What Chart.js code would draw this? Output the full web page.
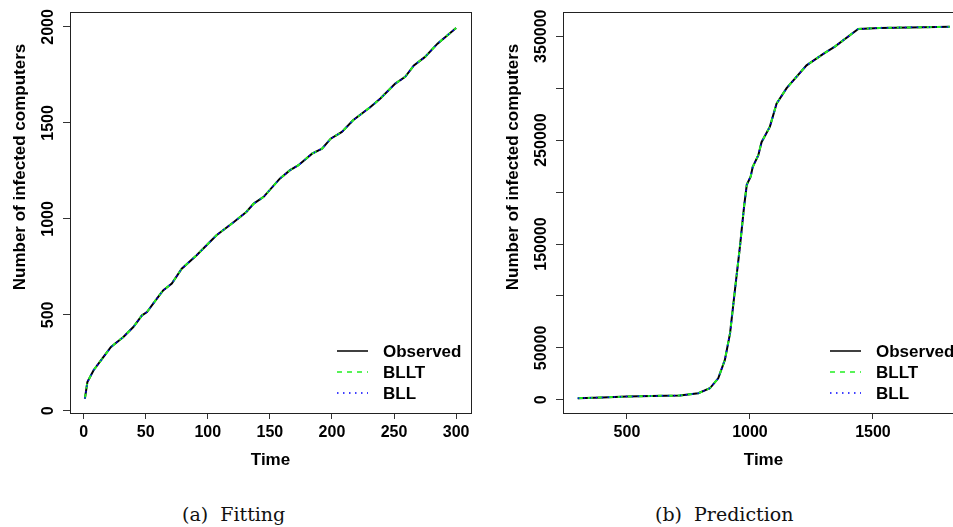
<!DOCTYPE html>
<html>
<head>
<meta charset="utf-8">
<script src="https://cdn.jsdelivr.net/npm/chart.js@4/dist/chart.umd.min.js"></script>
<style>
  html, body { margin: 0; padding: 0; background: #fff; overflow: hidden; width: 953px; height: 527px; }
  .panel { position: absolute; top: 0; width: 480px; height: 470px; }
  .caption { position: absolute; top: 503px; font-family: "DejaVu Serif", "Liberation Serif", serif; font-size: 19px; color: #111; white-space: pre; }
</style>
</head>
<body>
<div class="panel" style="left:0"><canvas id="fitChart" width="480" height="470"></canvas></div>
<div class="panel" style="left:493px"><canvas id="predChart" width="480" height="470"></canvas></div>
<div class="caption" id="capA" style="left:182px">(a)  Fitting</div>
<div class="caption" id="capB" style="left:655px">(b)  Prediction</div>

<script>
// ---- (a) Fitting: time 1..300 ----
const timeA = [1, 3, 8, 16, 22, 32, 40, 47, 51, 59, 64, 71, 79, 91, 99, 107, 121, 131, 137, 145,
  158, 166, 173, 184, 192, 199, 208, 217, 231, 239, 251, 259, 266, 275, 285, 300];
const observedA = [64, 150, 212, 281, 333, 385, 437, 498, 515, 585, 628, 663, 741, 811, 863, 915, 984, 1036, 1080, 1115,
  1210, 1253, 1280, 1340, 1366, 1418, 1453, 1514, 1583, 1627, 1705, 1740, 1800, 1844, 1913, 1995];
// fitted curves sit on top of the observed one
const blltA = observedA;
const bllA = observedA;
const xTicksA = [0, 50, 100, 150, 200, 250, 300];
const yTicksA = [0, 500, 1000, 1500, 2000];
const yLabelsA = [0, 500, 1000, 1500, 2000];

// ---- (b) Prediction: time 300..1812 ----
const timeB = [300, 400, 500, 600, 715, 790, 837, 871, 898, 919, 939, 959, 976, 987, 1003, 1011, 1034, 1047,
  1081, 1108, 1149, 1230, 1298, 1345, 1440, 1528, 1650, 1812];
const observedB = [1600, 2400, 3200, 3800, 4200, 6400, 11200, 20800, 38500, 64000, 106000, 147000, 186000, 207000,
  215000, 224000, 235500, 248000, 263000, 285000, 300000, 322000, 333000, 340000, 357000, 358000, 358500, 359000];
const blltB = observedB;
const bllB = observedB;
const xTicksB = [500, 1000, 1500];
const yTicksB = [0, 50000, 100000, 150000, 200000, 250000, 300000, 350000];
const yLabelsB = [0, 50000, 150000, 250000, 350000];

const seriesNames = ['Observed', 'BLLT', 'BLL'];

const SANS = '"Liberation Sans", Arial, Helvetica, sans-serif';

// R-style box, rotated y labels, axis titles and bottomright legend
const rFrame = {
  id: 'rFrame',
  afterDraw(chart, args, opts) {
    const { ctx, chartArea: a, scales } = chart;
    ctx.save();
    ctx.strokeStyle = '#222';
    ctx.lineWidth = 1;
    ctx.strokeRect(Math.round(a.left) + 0.5, Math.round(a.top) + 0.5,
      Math.round(a.right - a.left), Math.round(a.bottom - a.top));

    ctx.fillStyle = '#000';
    ctx.textAlign = 'center';
    ctx.textBaseline = 'middle';
    ctx.font = 'bold 16px ' + SANS;
    opts.yLabels.forEach(v => {
      const y = scales.y.getPixelForValue(v);
      ctx.save();
      ctx.translate(a.left - 21, y);
      ctx.rotate(-Math.PI / 2);
      ctx.fillText(String(v), 0, 0);
      ctx.restore();
    });

    ctx.font = 'bold 17px ' + SANS;
    ctx.save();
    ctx.translate(a.left - 50, a.top + 155);
    ctx.rotate(-Math.PI / 2);
    ctx.fillText('Number of infected computers', 0, 0);
    ctx.restore();
    ctx.fillText('Time', (a.left + a.right) / 2, a.bottom + 47);

    // legend
    const styles = [
      { color: '#000', dash: [], width: 1.5 },
      { color: '#22ee22', dash: [5, 5], width: 1.5 },
      { color: '#0000ff', dash: [1.5, 4.5], width: 1.5 }
    ];
    ctx.textAlign = 'left';
    seriesNames.forEach((name, i) => {
      const y = a.bottom - 62 + i * 21;
      const s = styles[i];
      ctx.beginPath();
      ctx.strokeStyle = s.color;
      ctx.lineWidth = s.width;
      ctx.setLineDash(s.dash);
      ctx.moveTo(a.right - 134, y);
      ctx.lineTo(a.right - 103, y);
      ctx.stroke();
      ctx.setLineDash([]);
      ctx.fillStyle = '#000';
      ctx.fillText(name, a.right - 88, y + 1);
    });
    ctx.restore();
  }
};

function toPoints(xs, ys) {
  return xs.map((x, i) => ({ x: x, y: ys[i] }));
}

function makeChart(id, xs, obs, bllt, bll, xRange, yRange, xTicks, yTicks, yLabels) {
  return new Chart(document.getElementById(id), {
    type: 'line',
    data: {
      datasets: [
        { label: 'Observed', data: toPoints(xs, obs), borderColor: '#000', borderWidth: 2, order: 3 },
        { label: 'BLLT', data: toPoints(xs, bllt), borderColor: '#22ee22', borderWidth: 2, borderDash: [5, 5], order: 2 },
        { label: 'BLL', data: toPoints(xs, bll), borderColor: '#0000ff', borderWidth: 1.5, borderDash: [1.5, 4.5], order: 1 }
      ]
    },
    options: {
      responsive: false,
      animation: false,
      events: [],
      elements: { point: { radius: 0 }, line: { tension: 0, fill: false } },
      layout: { padding: { top: 12, right: 9, left: 0, bottom: 0 } },
      scales: {
        x: {
          type: 'linear',
          min: xRange[0], max: xRange[1],
          afterBuildTicks: s => { s.ticks = xTicks.map(v => ({ value: v })); },
          afterFit: s => { s.height = 57; },
          grid: { drawOnChartArea: false, drawTicks: true, tickLength: 6, color: '#333' },
          border: { display: false },
          ticks: {
            color: '#000', font: { family: SANS, size: 16, weight: 'bold' }, padding: 4,
            maxRotation: 0, autoSkip: false, callback: v => String(v)
          }
        },
        y: {
          type: 'linear',
          min: yRange[0], max: yRange[1],
          afterBuildTicks: s => { s.ticks = yTicks.map(v => ({ value: v })); },
          afterFit: s => { s.width = 70; },
          grid: { drawOnChartArea: false, drawTicks: true, tickLength: 7, color: '#333' },
          border: { display: false },
          ticks: { display: false }
        }
      },
      plugins: {
        legend: { display: false },
        tooltip: { enabled: false },
        rFrame: { yLabels: yLabels }
      }
    },
    plugins: [rFrame]
  });
}

makeChart('fitChart', timeA, observedA, blltA, bllA, [-11, 312], [-11, 2078], xTicksA, yTicksA, yLabelsA);
makeChart('predChart', timeB, observedB, blltB, bllB, [240, 1870], [-12600, 373300], xTicksB, yTicksB, yLabelsB);
</script>
</body>
</html>
